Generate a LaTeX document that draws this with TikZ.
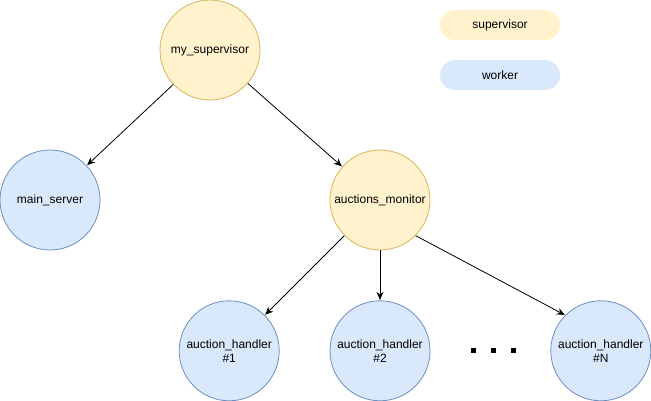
\documentclass[tikz,border=0pt]{standalone}
\usepackage{fontspec}
\setmainfont{Liberation Sans}
\usepackage{xcolor}
\usetikzlibrary{positioning}
\usetikzlibrary{arrows.meta}
\definecolor{supfill}{HTML}{FFF2CC}
\definecolor{supline}{HTML}{D6B656}
\definecolor{wrkfill}{HTML}{DAE8FC}
\definecolor{wrkline}{HTML}{6C8EBF}
\tikzstyle{proc}=[circle, minimum size=100pt, inner sep=0pt, align=center, line width=0.8pt, font=\fontsize{12}{14}\selectfont]
\tikzstyle{sup}=[proc, fill=supfill, draw=supline]
\tikzstyle{wrk}=[proc, fill=wrkfill, draw=wrkline]
\tikzstyle{legend}=[rounded corners=15pt, minimum width=120pt, minimum height=30pt, inner sep=0pt, font=\fontsize{12}{14}\selectfont]
\tikzstyle{link}=[->, draw=black, line width=0.8pt, shorten >=0.5pt]
\tikzstyle{dot}=[fill=black, minimum size=5pt, inner sep=0pt]

\begin{document}
\begin{tikzpicture}[x=1pt, y=-1pt, >={Stealth[length=8pt, width=7pt]}]
    \useasboundingbox (0,0) rectangle (651,401);
    \node[sup]    (boss)    at (210,50)                   {my\_supervisor};
    \node[wrk]    (server)  at (50,200)                   {main\_server};
    \node[sup]    (monitor) at (380,200)                  {auctions\_monitor};
    \node[wrk]    (h2)      [below = 50pt of monitor]     {auction\_handler\\\#2};
    \node[wrk]    (h1)      [left = 50pt of h2]           {auction\_handler\\\#1};
    \node[wrk]    (hN)      [right = 120pt of h2]         {auction\_handler\\\#N};

    \node[legend, fill=supfill] (lsup) at (500,25) {supervisor};
    \node[legend, fill=wrkfill] (lwrk) at (500,75) {worker};

    \foreach \i/\x in {1/473, 2/493, 3/513}
        \node[dot] (dot\i) at (\x,350) {};

    \draw[link] (boss)         to (server);
    \draw[link] (boss)         to (monitor);
    \draw[link] (monitor)      to (h1);
    \draw[link] (monitor)      to (h2);
    \draw[link] (monitor.-45)  to (hN.135);
\end{tikzpicture}
\end{document}
